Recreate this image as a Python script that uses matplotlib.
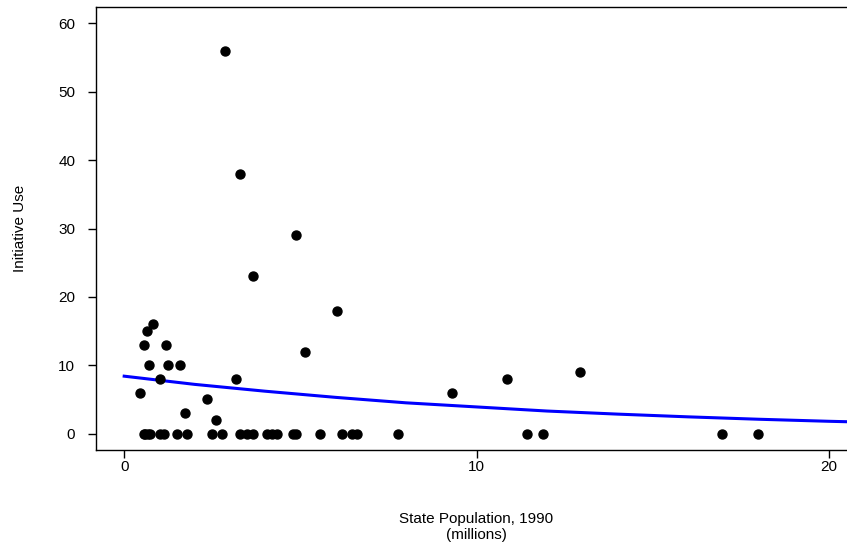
import matplotlib.pyplot as plt

plt.rcParams['font.family'] = ['Liberation Sans', 'DejaVu Sans']

# state population (millions) and initiative use
pop = [0.81, 0.65, 0.56, 1.20, 0.70, 1.23, 1.59, 1.01, 3.16, 0.46, 2.36, 1.72, 2.60,
       2.85, 3.30, 3.66, 4.87, 6.03, 5.12, 9.30, 10.86, 12.94,
       0.55, 0.60, 0.67, 0.72, 1.02, 1.13, 1.50, 1.79,
       2.49, 2.79, 3.29, 3.48, 3.67, 4.05, 4.19, 4.35, 4.80, 4.88,
       5.56, 6.18, 6.46, 6.60, 7.76, 11.44, 11.88, 16.97, 17.99]
use = [16, 15, 13, 13, 10, 10, 10, 8, 8, 6, 5, 3, 2,
       56, 38, 23, 29, 18, 12, 6, 8, 9,
       0, 0, 0, 0, 0, 0, 0, 0,
       0, 0, 0, 0, 0, 0, 0, 0, 0, 0,
       0, 0, 0, 0, 0, 0, 0, 0, 0]

# fitted curve
fit_x = [0, 2, 4, 6, 8, 10, 12, 14, 16, 18, 20, 20.8]
fit_y = [8.4, 7.2, 6.2, 5.3, 4.5, 3.9, 3.3, 2.85, 2.45, 2.1, 1.8, 1.7]

fig = plt.figure(figsize=(8.47, 5.46), dpi=100)
ax = fig.add_axes([96 / 847, 96 / 546, 761 / 847, 443 / 546])

ax.scatter(pop, use, s=42, color='black', zorder=3, clip_on=False)
ax.plot(fit_x, fit_y, color='blue', lw=2.2, zorder=2)

ax.set_xlim(-0.8, 20.8)
ax.set_ylim(-2.4, 62.4)
ax.set_xticks([0, 10, 20])
ax.set_yticks([0, 10, 20, 30, 40, 50, 60])
ax.tick_params(axis='both', length=6, width=1, labelsize=11, color='black')
ax.tick_params(axis='x', pad=1)
ax.tick_params(axis='y', pad=9)
for s in ax.spines.values():
    s.set_linewidth(1)

ax.set_ylabel('Initiative Use', fontsize=11)
ax.yaxis.set_label_coords(-69 / 761, 0.5)
ax.set_xlabel('State Population, 1990\n(millions)', fontsize=11)
ax.xaxis.set_label_coords((476 - 96) / 761, -0.14)

fig.savefig('out.png', dpi=100)
